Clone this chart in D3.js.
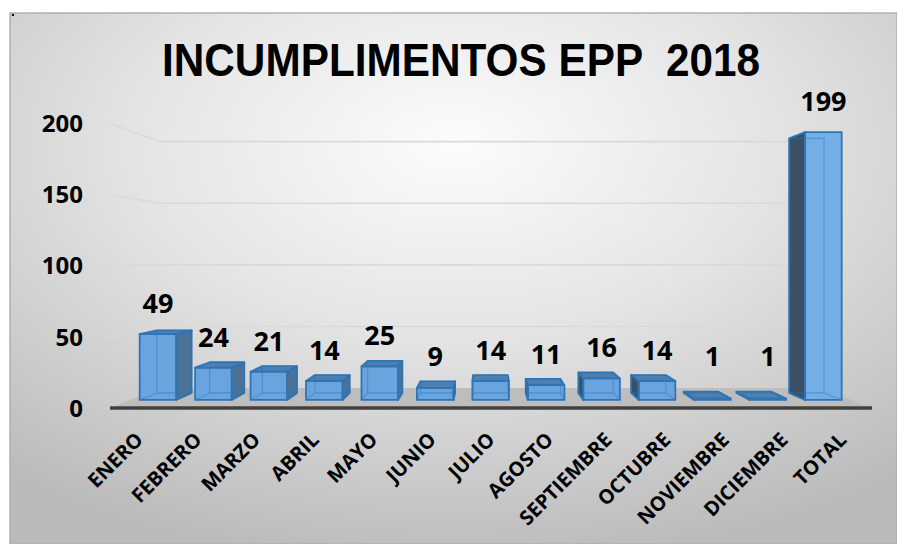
<!DOCTYPE html>
<html><head><meta charset="utf-8">
<script src="https://cdn.jsdelivr.net/npm/d3@7"></script>
<style>html,body{margin:0;padding:0;background:#fff;} svg{display:block;}</style>
</head><body>
<script>
const categories = ["ENERO","FEBRERO","MARZO","ABRIL","MAYO","JUNIO","JULIO","AGOSTO","SEPTIEMBRE","OCTUBRE","NOVIEMBRE","DICIEMBRE","TOTAL"];
const values = [49,24,21,14,25,9,14,11,16,14,1,1,199];
const yTicks = [0,50,100,150,200];
const titleText = "INCUMPLIMENTOS EPP  2018";

const W = 897, H = 544;
const svg = d3.select("body").append("svg").attr("width", W).attr("height", H);
const defs = svg.append("defs");
const rg = defs.append("radialGradient").attr("id","bg").attr("cx","0.5").attr("cy","0.25").attr("r","0.8");
rg.append("stop").attr("offset","0").attr("stop-color","#fcfcfc");
rg.append("stop").attr("offset","0.45").attr("stop-color","#e4e4e4");
rg.append("stop").attr("offset","1").attr("stop-color","#bababa");

svg.append("rect").attr("x",10).attr("y",13).attr("width",W-10).attr("height",H-13)
  .attr("fill","url(#bg)").attr("stroke","#b0b0b0").attr("stroke-width",1.5);
svg.append("rect").attr("x",12).attr("y",14).attr("width",2).attr("height",2).attr("fill","#000");

// scales
const x = d3.scaleBand().domain(categories).range([110, 872]).paddingInner(0.34).paddingOuter(0.17);
const y = d3.scaleLinear().domain([0, 200]).range([408, 123.5]);
const VX = 485, VY = 259, K = 0.1547;
function P(px, py, d) { const s = 1 / (1 + K * d); return [VX + (px - VX) * s, VY + (py - VY) * s]; }
const line = d3.line();
const poly = pts => line(pts) + "Z";

// floor
const fl = x.range();
svg.append("path").attr("d", poly([P(fl[0], y(0), 0), P(fl[1], y(0), 0), P(fl[1], y(0), 1), P(fl[0], y(0), 1)]))
  .attr("fill", "#bdbdbd");
svg.append("path").attr("d", line([P(fl[0], y(0), 0), P(fl[1], y(0), 0)]))
  .attr("stroke", "#404040").attr("stroke-width", 3.5).attr("fill", "none");

// gridlines (side wall + back wall)
yTicks.filter(t => t > 0).forEach(t => {
  svg.append("path").attr("d", line([P(fl[0], y(t), 0), P(fl[0], y(t), 1), P(fl[1], y(t), 1)]))
    .attr("stroke", "#d9d9d9").attr("stroke-width", 1.6).attr("fill", "none");
});

// y axis labels
svg.append("g").selectAll("text").data(yTicks).join("text")
  .attr("x", 83).attr("y", d => y(d)).attr("dy", "0.36em")
  .attr("text-anchor", "end")
  .attr("font-family", "'Open Sans', sans-serif").attr("font-weight", "bold").attr("font-size", 24)
  .attr("fill", "#000").text(d => d);

// bars
const D0 = 0.369, D1 = 0.726;
const edge = "#2e75b6";
const gBars = svg.append("g");
categories.forEach((c, i) => {
  const v = values[i];
  const x0 = x(c), x1 = x0 + x.bandwidth(), yb = y(0), yt = y(v);
  const g = gBars.append("g");
  const front = [P(x0, yt, D0), P(x1, yt, D0), P(x1, yb, D0), P(x0, yb, D0)];
  const back = [P(x0, yt, D1), P(x1, yt, D1), P(x1, yb, D1), P(x0, yb, D1)];
  const faces = [];
  if (x1 < VX) faces.push({ pts: [P(x1, yt, D0), P(x1, yt, D1), P(x1, yb, D1), P(x1, yb, D0)], fill: "#4d7196" });
  if (x0 > VX) faces.push({ pts: [P(x0, yt, D0), P(x0, yt, D1), P(x0, yb, D1), P(x0, yb, D0)], fill: "#3c4f64" });
  if (yt > VY) faces.push({ pts: [P(x0, yt, D0), P(x1, yt, D0), P(x1, yt, D1), P(x0, yt, D1)], fill: "#4f7fb0" });
  faces.forEach(f => g.append("path").attr("d", poly(f.pts)).attr("fill", f.fill));
  g.append("path").attr("d", poly(front)).attr("fill", i === categories.length - 1 ? "#74aee6" : "#69a4de");
  // hidden edges seen through
  g.append("path").attr("d", poly(back)).attr("fill", "none").attr("stroke", edge).attr("stroke-opacity", 0.45).attr("stroke-width", 1.2);
  g.append("path").attr("d", line([P(x0, yb, D0), P(x0, yb, D1)])).attr("stroke", edge).attr("stroke-opacity", 0.45).attr("stroke-width", 1.2);
  g.append("path").attr("d", line([P(x1, yb, D0), P(x1, yb, D1)])).attr("stroke", edge).attr("stroke-opacity", 0.45).attr("stroke-width", 1.2);
  // visible outlines
  faces.forEach(f => g.append("path").attr("d", poly(f.pts)).attr("fill", "none").attr("stroke", edge).attr("stroke-width", 1.8).attr("stroke-linejoin", "round"));
  g.append("path").attr("d", poly(front)).attr("fill", "none").attr("stroke", edge).attr("stroke-width", 1.8).attr("stroke-linejoin", "round");
  // value label
  const lp = P((x0 + x1) / 2, yt, D0);
  svg.append("text").attr("x", lp[0]).attr("y", Math.min(lp[1] - 21, 366)).attr("text-anchor", "middle")
    .attr("font-family", "'Open Sans', sans-serif").attr("font-weight", "bold").attr("font-size", 27)
    .attr("fill", "#000").text(v);
});

// x axis labels
svg.append("g").selectAll("text").data(categories).join("text")
  .attr("transform", d => `translate(${x(d) + x.bandwidth() / 2 + 5},441) rotate(-45)`)
  .attr("text-anchor", "end")
  .attr("font-family", "'Open Sans', sans-serif").attr("font-weight", "bold").attr("font-size", 20)
  .attr("fill", "#000").text(d => d);

// title
svg.append("text").attr("transform", "translate(461,76) scale(0.92,1)")
  .attr("text-anchor", "middle").style("white-space", "pre")
  .attr("font-family", "'Liberation Sans', Arial, sans-serif").attr("font-weight", "bold").attr("font-size", 46)
  .attr("fill", "#000").text(titleText);
</script>
</body></html>
